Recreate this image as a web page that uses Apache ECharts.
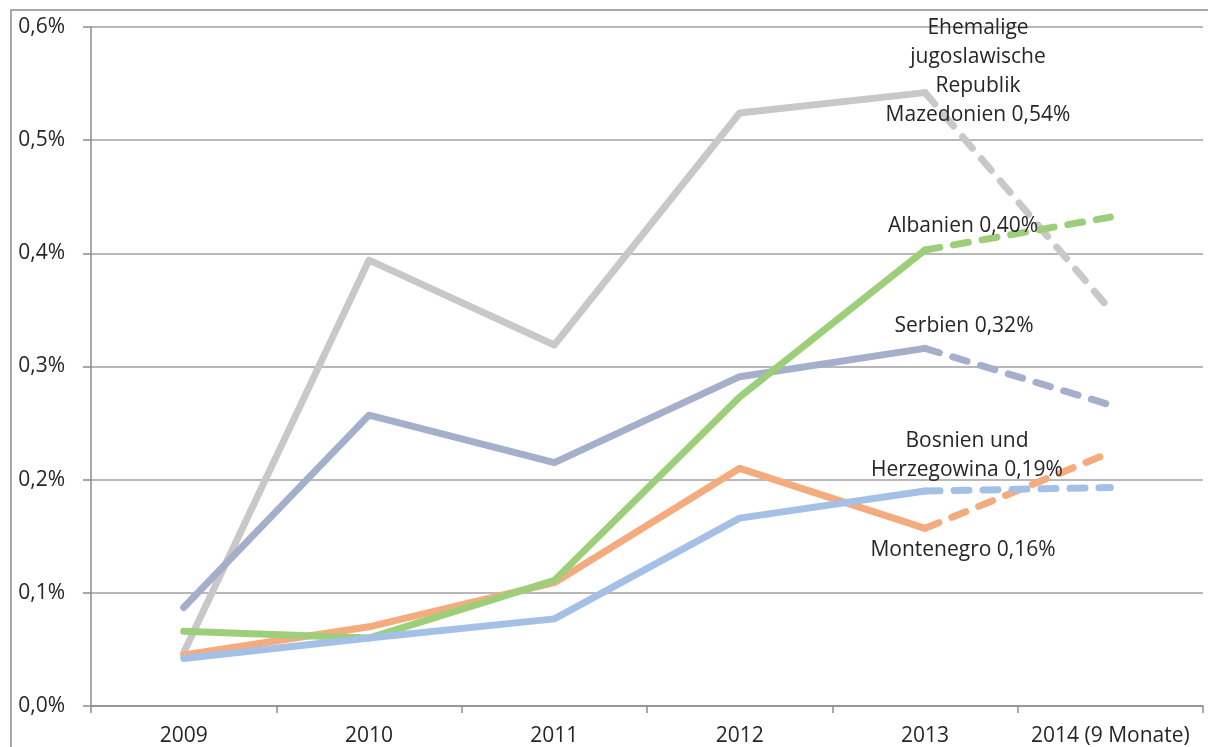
<!DOCTYPE html>
<html>
<head>
<meta charset="utf-8">
<style>
  html, body { margin: 0; padding: 0; background: #fff; }
  #chart { width: 1208px; height: 747px; }
</style>
<script src="https://cdn.jsdelivr.net/npm/echarts@6/dist/echarts.min.js"></script>
</head>
<body>
<div id="chart"></div>
<script>
// Anteil an allen Asylerstanträgen je Herkunftsland (in %)
const years = ['2009', '2010', '2011', '2012', '2013', '2014 (9 Monate)'];

const mazedonien = [0.047, 0.394, 0.319, 0.524, 0.542, 0.350];
const albanien   = [0.066, 0.060, 0.111, 0.273, 0.403, 0.432];
const serbien    = [0.087, 0.257, 0.215, 0.291, 0.316, 0.266];
const montenegro = [0.045, 0.070, 0.109, 0.210, 0.157, 0.224];
const bosnien    = [0.042, 0.060, 0.077, 0.166, 0.190, 0.193];

const yTicks = { min: 0, max: 0.6, interval: 0.1 };

const countries = [
  { name: 'Ehemalige\njugoslawische\nRepublik\nMazedonien', data: mazedonien, color: '#c8c8c8', offset: [53, -21] },
  { name: 'Serbien', data: serbien, color: '#a4b0cb', offset: [39, -22] },
  { name: 'Montenegro', data: montenegro, color: '#f4ab7e', offset: [38, 22] },
  { name: 'Albanien', data: albanien, color: '#9dcf7a', offset: [38, -24] },
  { name: 'Bosnien und\nHerzegowina', data: bosnien, color: '#a5c0e6', offset: [42, -35] }
];

const fmtPct = (v, d) => v.toFixed(d).replace('.', ',') + '%';
const labelFont = '"Open Sans", "Noto Sans", sans-serif';
const fontSize = 21;

const series = [];
countries.forEach(c => {
  const last = c.data.length - 1;
  // solid part: 2009 to 2013
  series.push({
    type: 'line',
    name: c.name,
    data: c.data.map((v, i) => (i < last ? v : null)),
    showSymbol: false,
    symbol: 'none',
    lineStyle: { color: c.color, width: 7, cap: 'round', join: 'round' },
    silent: true,
    animation: false
  });
  // dashed part: 2013 to 2014 (9 Monate), with the 2013 value label
  series.push({
    type: 'line',
    name: c.name + ' (Teiljahr)',
    data: c.data.map((v, i) => {
      if (i === last - 1) {
        return {
          value: v,
          symbol: 'circle',
          symbolSize: 2,
          itemStyle: { color: 'transparent' },
          label: {
            show: true,
            position: 'inside',
            offset: c.offset,
            align: 'center',
            verticalAlign: 'middle',
            formatter: () => c.name + ' ' + fmtPct(v, 2),
            fontFamily: labelFont,
            fontSize: fontSize,
            lineHeight: 29,
            color: '#262626'
          }
        };
      }
      return i >= last - 1 ? v : null;
    }),
    showSymbol: true,
    symbol: 'none',
    lineStyle: { color: c.color, width: 7, type: [15, 14], cap: 'round', join: 'round' },
    silent: true,
    animation: false
  });
});

const chart = echarts.init(document.getElementById('chart'), null, { renderer: 'canvas' });
chart.setOption({
  backgroundColor: '#ffffff',
  animation: false,
  graphic: [{
    type: 'rect',
    shape: { x: 11, y: 10, width: 1300, height: 900 },
    style: { fill: 'none', stroke: '#8c8c8c', lineWidth: 1.5 },
    silent: true,
    z: -1
  }],
  grid: { left: 91, right: 5, top: 27, bottom: 41 },
  xAxis: {
    type: 'category',
    data: years,
    boundaryGap: true,
    axisLine: { lineStyle: { color: '#8c8c8c', width: 1.5 } },
    axisTick: { show: true, interval: 0, length: 7, lineStyle: { color: '#8c8c8c', width: 1.5 } },
    axisLabel: {
      interval: 0,
      margin: 20,
      fontFamily: labelFont,
      fontSize: fontSize,
      color: '#262626'
    },
    splitLine: { show: false }
  },
  yAxis: {
    type: 'value',
    min: yTicks.min,
    max: yTicks.max,
    interval: yTicks.interval,
    axisLine: { show: true, lineStyle: { color: '#8c8c8c', width: 1.5 } },
    axisTick: { show: true, length: 8, lineStyle: { color: '#8c8c8c', width: 1.5 } },
    axisLabel: {
      margin: 26,
      fontFamily: labelFont,
      fontSize: fontSize,
      color: '#262626',
      formatter: v => fmtPct(v, 1)
    },
    splitLine: { show: true, lineStyle: { color: '#a0a0a0', width: 1.5 } }
  },
  series: series
});
</script>
</body>
</html>
